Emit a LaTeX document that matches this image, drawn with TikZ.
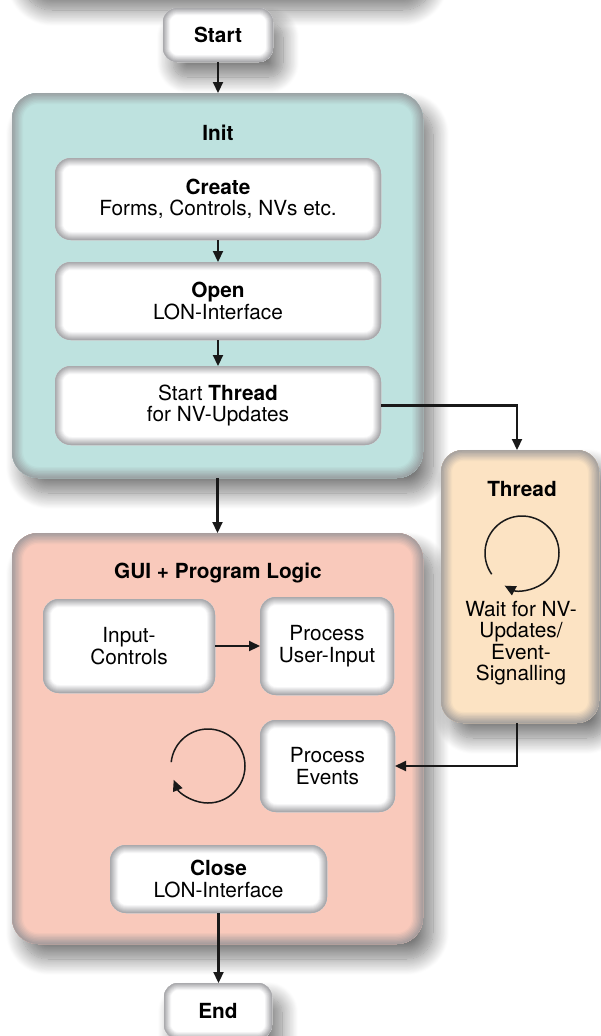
\documentclass[tikz,border=0pt]{standalone}
\usepackage{fontspec}
\setmainfont{TeX Gyre Heros}
\usetikzlibrary{shadows.blur,arrows.meta}
\definecolor{initc}{RGB}{190,226,223}
\definecolor{guic}{RGB}{249,201,187}
\definecolor{thrc}{RGB}{252,227,195}
\definecolor{rimc}{RGB}{146,146,150}
\tikzset{
  rimbox/.style n args={3}{fill=#1, rounded corners=#3, inner sep=0pt, outer sep=0pt, align=center,
    path picture={
      \foreach \k in {0,...,7}{
        \pgfmathsetmacro\lw{2*#2*(1-\k/8)}
        \pgfmathtruncatemacro\pc{8+\k*10}
        \draw[line width=\lw pt, draw=rimc!\pc!#1, rounded corners=#3]
          (path picture bounding box.south west) rectangle (path picture bounding box.north east);
      }
    }},
  shadowed/.style={blur shadow={shadow xshift=10pt, shadow yshift=-15pt, shadow blur radius=16pt, shadow opacity=52, shadow blur steps=20}},
  arr/.style={-{Triangle[length=11pt,width=10pt]}, line width=2.2pt, draw=black!90},
  circarr/.style={-{Triangle[length=11pt,width=10pt]}, line width=1.5pt, draw=black!90},
  txt/.style={align=center}
}
\begin{document}
\begin{tikzpicture}[x=1pt,y=-1pt, every node/.style={font=\fontsize{20.8}{21.5}\selectfont}]
\useasboundingbox (0,0) rectangle (600,1036);

% cut-off box above the page (only its shadow is visible)
\node[shadowed, fill=white, rounded corners=30pt, minimum width=411pt, minimum height=100pt] (prev) at (217.5,-55) {};

\node[rimbox={white}{7}{14pt}, shadowed, minimum width=110pt, minimum height=54pt] (start) at (218,35) {\textbf{Start}};

% Init
\node[rimbox={initc}{11}{26pt}, shadowed, minimum width=411pt, minimum height=385pt] (init) at (217.5,285.5) {};
\node[txt] (initT) at (218,133) {\textbf{Init}};
\node[rimbox={white}{8}{16pt}, minimum width=326pt, minimum height=82pt] (create) at (218,199) {\textbf{Create}\\Forms, Controls, NVs etc.};
\node[rimbox={white}{8}{16pt}, minimum width=326pt, minimum height=78pt] (open) at (218,301) {\textbf{Open}\\LON-Interface};
\node[rimbox={white}{8}{16pt}, minimum width=326pt, minimum height=79pt] (sthread) at (218,405.5) {Start \textbf{Thread}\\for NV-Updates};

% GUI
\node[rimbox={guic}{11}{26pt}, shadowed, minimum width=411pt, minimum height=411pt] (gui) at (217.5,738.5) {};
\node[txt] (guiT) at (218,573) {\textbf{GUI + Program Logic}};
\node[rimbox={white}{8}{16pt}, minimum width=172pt, minimum height=94pt] (input) at (129,646) {Input-\\Controls};
\node[rimbox={white}{8}{16pt}, minimum width=134pt, minimum height=98pt] (puser) at (327,646) {Process\\User-Input};
\node[rimbox={white}{8}{16pt}, minimum width=135pt, minimum height=92pt] (pevents) at (327.5,766) {Process\\Events};
\node[rimbox={white}{8}{16pt}, minimum width=217pt, minimum height=68pt] (close) at (218.5,879) {\textbf{Close}\\LON-Interface};
\coordinate (gc) at (208,766);
\draw[circarr] ([shift={(186:37)}]gc) arc[start angle=186, end angle=518, radius=37];

% Thread
\node[rimbox={thrc}{11}{22pt}, shadowed, minimum width=158pt, minimum height=273pt] (thread) at (520,586.5) {};
\node[txt] (threadT) at (522,489) {\textbf{Thread}};
\coordinate (tc) at (522,553);
\draw[circarr] ([shift={(145:37)}]tc) arc[start angle=145, end angle=478, radius=37];
\node[txt] (wait) at (521,643) {Wait for NV-\\Updates/\\Event-\\Signalling};

% End
\node[rimbox={white}{7}{14pt}, shadowed, minimum width=108pt, minimum height=56pt] (end) at (218,1011) {\textbf{End}};

% connectors
\draw[arr] (start.south) -- (start.south |- init.north);
\draw[arr] (create) -- (open);
\draw[arr] (open) -- (sthread);
\draw[arr] (sthread.east) -| ([xshift=-3pt]thread.north);
\draw[arr] (init.south) -- (gui.north);
\draw[arr] (input) -- (puser);
\draw[arr] ([xshift=-3pt]thread.south) |- (pevents.east);
\draw[arr] (close.south) -- (close.south |- end.north);
\end{tikzpicture}
\end{document}
